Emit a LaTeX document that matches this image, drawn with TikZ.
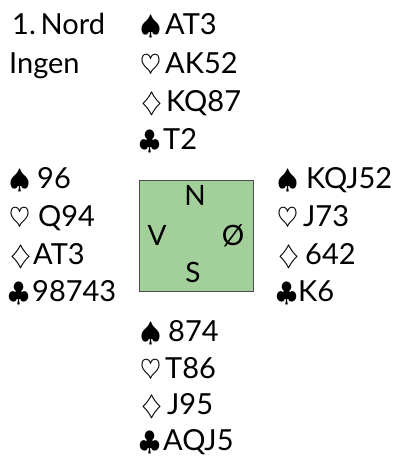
\RequirePackage{fix-cm}
\documentclass[tikz,border=0pt]{standalone}
\usepackage{fontspec}
\setmainfont{Lato}
\begin{document}
\begin{tikzpicture}[x=1pt,y=-1pt,
  txt/.style={anchor=base west,inner sep=0pt,font=\fontsize{29}{34}\selectfont},
  suit/.style={anchor=base west,inner sep=0pt,font=\fontsize{27}{34}\selectfont},
  dir/.style={anchor=base,inner sep=0pt,font=\fontsize{28}{34}\selectfont},
  table/.style={draw=black!70,line width=1pt,fill=tablegreen}]
\definecolor{tablegreen}{RGB}{163,208,154}
\useasboundingbox (0,0) rectangle (396,464);
% header
\node[txt] (board) at (12,34.5) {1.\,Nord};
\node[txt] (vul) at (9,73) {Ingen};
% table
\node[table,minimum width=114pt,minimum height=111pt,inner sep=0pt,anchor=north west] (tbl) at (139,180) {};
\node[dir] (dn) at (195,205) {N};
\node[dir] (dv) at (157,245) {V};
\node[dir] (de) at (233,245) {Ø};
\node[dir] (ds) at (193,282) {S};
% North
\node[suit] (ns) at (140,34.5) {$\spadesuit$};
\node[txt] (nst) at (165,34.5) {AT3};
\node[suit] (nh) at (140,73) {$\heartsuit$};
\node[txt] (nht) at (165,73) {AK52};
\node[suit] (nd) at (141,111) {$\diamondsuit$};
\node[txt] (ndt) at (166,111) {KQ87};
\node[suit] (nc) at (139,149) {$\clubsuit$};
\node[txt] (nct) at (163,149) {T2};
% West
\node[suit] (ws) at (9,188) {$\spadesuit$};
\node[txt] (wst) at (37,188) {96};
\node[suit] (wh) at (9,226) {$\heartsuit$};
\node[txt] (wht) at (38,226) {Q94};
\node[suit] (wd) at (10,264) {$\diamondsuit$};
\node[txt] (wdt) at (33,264) {AT3};
\node[suit] (wc) at (8,301) {$\clubsuit$};
\node[txt] (wct) at (32,301) {98743};
% East
\node[suit] (es) at (277,188) {$\spadesuit$};
\node[txt] (est) at (306,188) {KQJ52};
\node[suit] (eh) at (277,226) {$\heartsuit$};
\node[txt] (eht) at (303,226) {J73};
\node[suit] (ed) at (278,264) {$\diamondsuit$};
\node[txt] (edt) at (305,264) {642};
\node[suit] (ec) at (276,301) {$\clubsuit$};
\node[txt] (ect) at (298,301) {K6};
% South
\node[suit] (ss) at (140,341) {$\spadesuit$};
\node[txt] (sst) at (168,341) {874};
\node[suit] (sh) at (140,378) {$\heartsuit$};
\node[txt] (sht) at (165,378) {T86};
\node[suit] (sd) at (141,414) {$\diamondsuit$};
\node[txt] (sdt) at (167,414) {J95};
\node[suit] (sc) at (139,450) {$\clubsuit$};
\node[txt] (sct) at (163,450) {AQJ5};
\end{tikzpicture}
\end{document}
